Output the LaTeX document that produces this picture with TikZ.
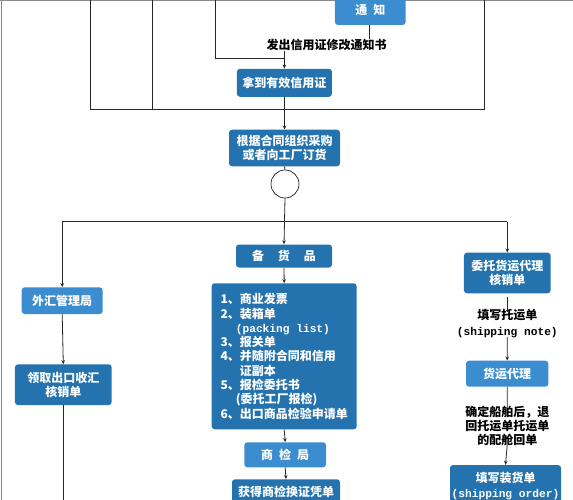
\documentclass[tikz,border=0pt]{standalone}
\usepackage{fontspec}
\setmainfont{Noto Sans CJK SC}
\setmonofont{Liberation Mono}
\usetikzlibrary{arrows.meta}
\definecolor{boxdark}{HTML}{2473AE}
\definecolor{boxlight}{HTML}{3C8DD0}
\definecolor{framegray}{HTML}{8A8A8A}
\tikzset{
  blk/.style={rounded corners=3pt, fill=boxdark, text=white, font=\fontsize{12}{14.3}\selectfont\bfseries, inner sep=0pt, align=center},
  lblk/.style={blk, fill=boxlight},
  lab/.style={font=\fontsize{12}{14.3}\selectfont\bfseries, inner sep=0pt, align=center},
  conn/.style={line width=0.8pt, black!85},
  arr/.style={conn, -{Stealth[length=4pt,width=3.5pt]}},
  mono/.style={}
}
\newcommand{\mt}[1]{{\fontsize{11.2}{14.3}\selectfont\ttfamily\bfseries #1}}
\begin{document}
\begin{tikzpicture}[x=1pt,y=-1pt]
\useasboundingbox (0,0) rectangle (573,500);
\fill[white] (0,0) rectangle (573,500);
% frame
\draw[framegray, line width=1pt] (0,1) -- (573,1);
\draw[framegray, line width=1pt] (1,0) -- (1,500);
% top lines
\coordinate (t1) at (90.6,0);
\coordinate (t2) at (152.8,0);
\coordinate (t3) at (484.6,0);
\coordinate (t4) at (215.6,0);
\coordinate (b1) at (90.6,109.6);
\coordinate (b2) at (152.8,109.6);
\coordinate (b3) at (484.6,109.6);
\coordinate (k1) at (215.6,58.5);
\coordinate (k2) at (285,58.5);
\draw[conn] (t1) -- (b1) -- (b3) -- (t3);
\draw[conn] (t2) -- (b2);
\draw[conn] (t4) -- (k1) -- (k2);
% nodes
\node[lblk, minimum width=70.7pt, minimum height=30pt] (tongzhi) at (370.3,10) {通\hspace{6pt}知};
\node[lab] (lab1) at (326.7,44.6) {发出信用证修改通知书};
\node[blk, minimum width=95pt, minimum height=28pt] (nadao) at (284.4,82.8) {拿到有效信用证};
\node[blk, minimum width=111pt, minimum height=36.6pt] (genju) at (284.5,148) {根据合同组织采购\\或者向工厂订货};
\node[draw, circle, minimum size=28pt, inner sep=0pt, line width=0.6pt] (circ) at (285,184) {};
\coordinate (j) at (285,221.7);
\node[blk, minimum width=96pt, minimum height=23pt] (beihuo) at (284,256) {备\hspace{14pt}货\hspace{14pt}品};
\node[blk, minimum width=145pt, minimum height=146pt, align=left] (docs) at (284.2,356.3) {%
1、商业发票\\
2、装箱单\\
\phantom{1、}\hspace{-4pt}\mt{(packing list)}\\
3、报关单\\
4、并随附合同和信用\\
\phantom{1、}证副本\\
5、报检委托书\\
\phantom{1、}\hspace{-4pt}(委托工厂报检)\\
6、出口商品检验申请单};
\node[lblk, minimum width=81.7pt, minimum height=25pt] (shangjian) at (285.2,454.8) {商\hspace{6pt}检\hspace{6pt}局};
\node[blk, minimum width=108pt, minimum height=25pt] (huode) at (286,491.8) {获得商检换证凭单};
\node[lblk, minimum width=81pt, minimum height=26.7pt] (waihui) at (62.2,300.7) {外汇管理局};
\node[blk, minimum width=96.7pt, minimum height=40.7pt] (lingqu) at (63.3,384.7) {领取出口收汇\\核销单};
\coordinate (lend) at (63.3,500);
\node[blk, minimum width=86.7pt, minimum height=40.6pt] (weituo) at (507.3,273) {委托货运代理\\核销单};
\node[lab] (lab2) at (507.3,323.7) {填写托运单\\[1pt]\mt{(shipping note)}};
\node[lblk, minimum width=82.3pt, minimum height=26pt] (huoyun) at (507.2,373.7) {货运代理};
\node[lab, font=\fontsize{12}{14.2}\selectfont\bfseries] (lab3) at (507.3,426) {确定船舶后，退\\回托运单托运单\\的配舱回单};
\node[blk, minimum width=111pt, minimum height=42pt] (tianxie) at (505.5,486) {填写装货单\\[1pt]\mt{(shipping order)}};
% connectors
\draw[conn] (tongzhi.south -| 369,0) -- (lab1.north -| 369,0);
\draw[arr] (nadao.north |- lab1.south) -- (nadao.north);
\draw[arr] (nadao.south) -- (genju.north);
\draw[conn] (genju.south) -- (circ.north);
\draw[arr] (circ.south) -- (beihuo.north);
\draw[conn] (waihui.north |- j) -- (weituo.north |- j);
\draw[arr] (waihui.north |- j) -- (waihui.north);
\draw[arr] (weituo.north |- j) -- (weituo.north);
\draw[arr] (beihuo.south) -- (docs.north);
\draw[arr] (docs.south) -- (shangjian.north);
\draw[arr] (shangjian.south) -- (huode.north);
\draw[arr] (waihui.south) -- (lingqu.north);
\draw[conn] (lingqu.south) -- (lend);
\draw[conn] (weituo.south) ++(0,3) -- ([yshift=-2pt]lab2.north);
\draw[arr] ([yshift=1pt]lab2.south) -- (huoyun.north);
\draw[conn] (huoyun.south) -- ([yshift=-2pt]lab3.north);
\draw[arr] ([yshift=2pt]lab3.south) -- (tianxie.north);
\end{tikzpicture}
\end{document}
